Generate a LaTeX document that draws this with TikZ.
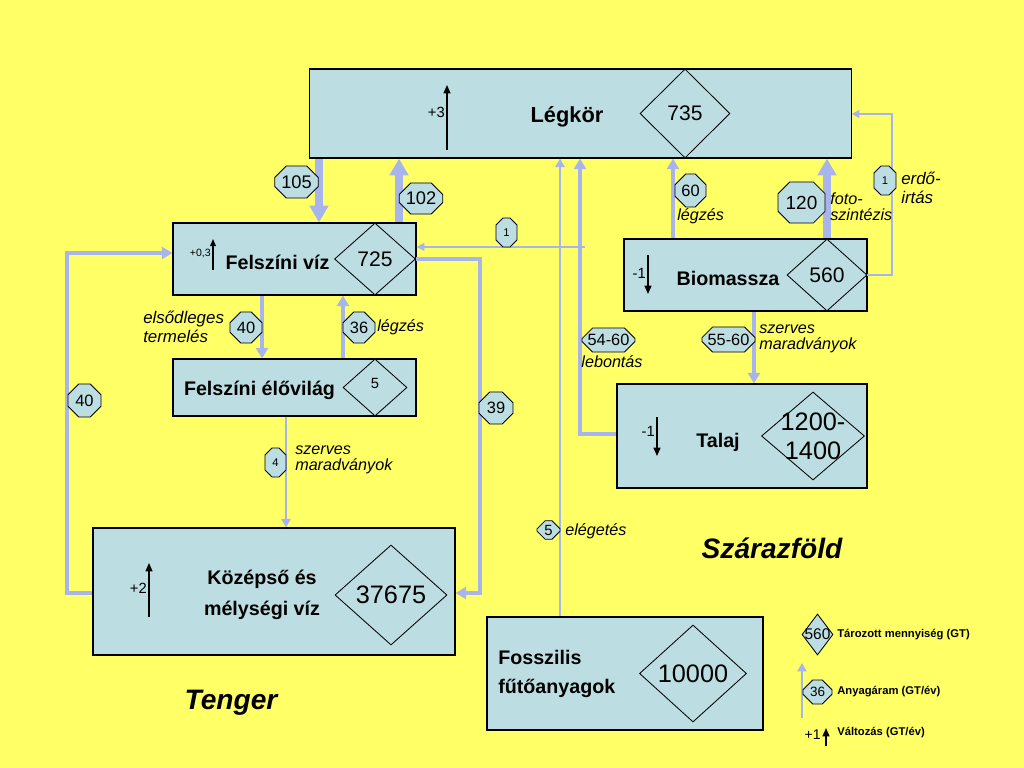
\documentclass[tikz,border=0pt]{standalone}
\usepackage{fontspec}
\setmainfont{Liberation Sans}
\usetikzlibrary{shapes.geometric,shapes.misc,arrows.meta}
\definecolor{sheet}{RGB}{255,255,102}
\definecolor{boxblue}{RGB}{188,222,226}
\definecolor{flowblue}{RGB}{168,180,236}

\begin{document}
\begin{tikzpicture}[x=0.025cm,y=-0.025cm,
  box/.style={draw,fill=boxblue,line width=0.8pt,inner sep=0pt},
  store/.style={diamond,draw,fill=boxblue,line width=0.6pt,inner sep=0pt},
  rate/.style={chamfered rectangle,chamfered rectangle xsep=0.2cm,draw,fill=boxblue,line width=0.6pt,inner sep=0pt},
  smallrate/.style={rate,chamfered rectangle xsep=0.12cm,font=\fontsize{8}{8}\selectfont},
  bigflow/.style={flowblue,line width=5.7pt,-{Triangle[width=13pt,length=12pt]}},
  midflow/.style={flowblue,line width=2.8pt,-{Triangle[width=8.5pt,length=7.5pt]}},
  thinflow/.style={flowblue,line width=2pt,-{Triangle[width=6.5pt,length=6pt]}},
  hairflow/.style={flowblue,line width=1.3pt,-{Triangle[width=5.5pt,length=5.5pt]}},
  change/.style={line width=1pt,-{Triangle[width=5pt,length=6pt]}},
  chlabel/.style={anchor=east,inner sep=0pt,font=\fontsize{10.5}{10.5}\selectfont},
  lbl/.style={anchor=west,align=left,inner sep=0pt,font=\itshape\fontsize{11.5}{11.5}\selectfont},
  boxname/.style={font=\bfseries\fontsize{14}{22}\selectfont,inner sep=0pt},
  legendtext/.style={anchor=west,inner sep=0pt,font=\bfseries\fontsize{8}{8}\selectfont}]
\fill[sheet] (0,0) rectangle (1024,768);
% tárolók
\node[box,minimum width=13.525cm,minimum height=2.225cm] (legkor) at (580.5,113.5) {};
\node[box,minimum width=6.075cm,minimum height=1.8cm] (felszin) at (294.5,259) {};
\node[box,minimum width=6.075cm,minimum height=1.425cm] (elovilag) at (294.5,387.5) {};
\node[box,minimum width=9.05cm,minimum height=3.175cm] (melyviz) at (274,591.5) {};
\node[box,minimum width=6.075cm,minimum height=1.8cm] (biomassza) at (745.5,275) {};
\node[box,minimum width=6.25cm,minimum height=2.6cm] (talaj) at (742,436) {};
\node[box,minimum width=6.9cm,minimum height=2.825cm] (fosszilis) at (625,673.5) {};
\node[store,minimum width=2.25cm,minimum height=2.225cm,label={[font=\fontsize{15}{15}\selectfont]center:735}] (d735) at (685,113.5) {};
\node[store,minimum width=2.025cm,minimum height=1.8cm,label={[font=\fontsize{15}{15}\selectfont]center:725}] (d725) at (375,259) {};
\node[store,minimum width=1.6cm,minimum height=1.425cm,label={[font=\fontsize{10.5}{10.5}\selectfont,yshift=3pt]center:5}] (d5) at (375,387.5) {};
\node[store,minimum width=2.8cm,minimum height=2.5cm,label={[font=\fontsize{18}{18}\selectfont]center:37675}] (d37675) at (391,595) {};
\node[store,minimum width=2cm,minimum height=1.8cm,label={[font=\fontsize{15}{15}\selectfont]center:560}] (d560) at (827,275) {};
\node[store,minimum width=2.575cm,minimum height=2.2cm,label={[align=center,font=\fontsize{18}{20.5}\selectfont]center:1200-\\1400}] (d1200) at (813,436) {};
\node[store,minimum width=2.675cm,minimum height=2.425cm,label={[font=\fontsize{18}{18}\selectfont]center:10000}] (d10000) at (693,673.5) {};
\node[boxname,font=\bfseries\fontsize{15.5}{15.5}\selectfont] (legkorname) at (567,117) {Légkör};
\node[boxname] (felszinname) at (277.5,262) {Felszíni víz};
\node[boxname] (elovilagname) at (259.5,390) {Felszíni élővilág};
\node[boxname,align=center] (melyvizname) at (262,594.5) {Középső és\\mélységi víz};
\node[boxname] (biomasszaname) at (728,278) {Biomassza};
\node[boxname] (talajname) at (718,442) {Talaj};
\node[boxname,anchor=west,align=left,font=\bfseries\fontsize{14}{20}\selectfont] (fosszilisname) at (498,674) {Fosszilis\\fűtőanyagok};
% változások
\draw[change] (447,150) -- (447,85);
\node[chlabel] (chlegkor) at (445,112) {+3};
\draw[change,line width=0.8pt,-{Triangle[width=4pt,length=5pt]}] (213,270) -- (213,239);
\node[chlabel,font=\fontsize{7.5}{7.5}\selectfont] (chfelszin) at (211,253) {+0,3};
\draw[change] (149,617) -- (149,563);
\node[chlabel] (chmelyviz) at (147,588) {+2};
\draw[change] (648,255) -- (648,294);
\node[chlabel] (chbiomassza) at (646,273) {-1};
\draw[change] (657,417) -- (657,456);
\node[chlabel] (chtalaj) at (655,431) {-1};
% anyagáramok
\draw[bigflow] (319,0 |- legkor.south) -- (319,0 |- felszin.north);
\draw[bigflow] (399,0 |- felszin.north) -- (399,0 |- legkor.south);
\draw[midflow] (673,0 |- biomassza.north) -- (673,0 |- legkor.south);
\draw[bigflow] (827,0 |- biomassza.north) -- (827,0 |- legkor.south);
\draw[thinflow] (560,0 |- fosszilis.north) -- (560,0 |- legkor.south);
\draw[midflow] (talaj.west |- 0,434) -| (580,0 |- legkor.south);
\coordinate (fork) at (585,247);
\draw[hairflow] (fork) -- (felszin.east |- fork);
\draw[midflow] (d725.east) -- (d725.east -| 480,0) |- (melyviz.east |- 0,593);
\draw[midflow] (melyviz.west |- 0,593) -- (67,593) -- (67,253) -- (felszin.west |- 0,253);
\draw[midflow] (262,0 |- felszin.south) -- (262,0 |- elovilag.north);
\draw[midflow] (343,0 |- elovilag.north) -- (343,0 |- felszin.south);
\draw[thinflow] (286,0 |- elovilag.south) -- (286,0 |- melyviz.north);
\draw[midflow] (754,0 |- biomassza.south) -- (754,0 |- talaj.north);
\draw[hairflow] (d560.east) -- (d560.east -| 892,0) |- (legkor.east |- 0,114);
% értékek
\node[rate,minimum width=0.925cm,minimum height=0.8cm,font=\fontsize{13}{13}\selectfont] (o105) at (296.5,182) {105};
\node[rate,minimum width=0.9cm,minimum height=0.775cm,font=\fontsize{13}{13}\selectfont] (o102) at (421,198.5) {102};
\node[smallrate,minimum width=0.525cm,minimum height=0.725cm] (o1fold) at (506.5,232.5) {1};
\node[rate,minimum width=0.775cm,minimum height=0.825cm,font=\fontsize{11.7}{11.7}\selectfont] (o60) at (690.5,190.5) {60};
\node[rate,minimum width=1.175cm,minimum height=1.025cm,chamfered rectangle xsep=0.25cm,font=\fontsize{13.5}{13.5}\selectfont] (o120) at (801.5,202.5) {120};
\node[smallrate,minimum width=0.55cm,minimum height=0.725cm] (o1erdo) at (885,180.5) {1};
\node[rate,minimum width=1.175cm,minimum height=0.625cm,chamfered rectangle xsep=0.14cm,font=\fontsize{11.6}{11.6}\selectfont] (o5560) at (728.5,339.5) {55-60};
\node[rate,minimum width=1.225cm,minimum height=0.6cm,chamfered rectangle xsep=0.14cm,font=\fontsize{11.6}{11.6}\selectfont] (o5460) at (608.5,340) {54-60};
\node[rate,minimum width=0.8cm,minimum height=0.775cm,font=\fontsize{11.7}{11.7}\selectfont] (o40felszin) at (246,327.5) {40};
\node[rate,minimum width=0.8cm,minimum height=0.775cm,font=\fontsize{11.7}{11.7}\selectfont] (o36) at (359,327.5) {36};
\node[rate,minimum width=0.825cm,minimum height=0.825cm,font=\fontsize{11.7}{11.7}\selectfont] (o40mely) at (84.5,400.5) {40};
\node[rate,minimum width=0.85cm,minimum height=0.8cm,font=\fontsize{11.7}{11.7}\selectfont] (o39) at (496,408) {39};
\node[smallrate,minimum width=0.525cm,minimum height=0.725cm] (o4) at (275.5,462.5) {4};
\node[rate,minimum width=0.575cm,minimum height=0.4cm,chamfered rectangle xsep=0.1cm,font=\fontsize{10.5}{10.5}\selectfont] (o5) at (548.5,530) {5};
\node[lbl,font=\itshape\fontsize{12}{14}\selectfont] (elsodleges) at (143,327) {elsődleges\\termelés};
\node[lbl] (legzesviz) at (377,327) {légzés};
\node[lbl] (szervesviz) at (295,459.5) {szerves\\maradványok};
\node[lbl] (legzesfold) at (677,216) {légzés};
\node[lbl] (fotoszint) at (830,206.5) {foto-\\szintézis};
\node[lbl,font=\itshape\fontsize{12}{13.5}\selectfont] (erdoirtas) at (901,187.5) {erdő-\\irtás};
\node[lbl] (szervesfold) at (759,338.5) {szerves\\maradványok};
\node[lbl,anchor=center] (lebontas) at (612,362) {lebontás};
\node[lbl] (elegetes) at (565,531) {elégetés};
\node[font=\bfseries\itshape\fontsize{20}{20}\selectfont] (szarazfold) at (772,548) {Szárazföld};
\node[font=\bfseries\itshape\fontsize{20}{20}\selectfont] (tenger) at (231,703) {Tenger};
% jelmagyarázat
\node[store,minimum width=0.775cm,minimum height=1.025cm,label={[font=\fontsize{11}{11}\selectfont]center:560}] (legstore) at (817.5,634.5) {};
\node[legendtext] (legstoretext) at (837,635) {Tározott mennyiség (GT)};
\draw[thinflow] (802,718) -- (802,663);
\node[rate,minimum width=0.725cm,minimum height=0.6cm,chamfered rectangle xsep=0.14cm,font=\fontsize{9.6}{9.6}\selectfont] (legrate) at (817.5,692) {36};
\node[legendtext] (legratetext) at (837,692) {Anyagáram (GT/év)};
\draw[change] (826,746) -- (826,728);
\node[chlabel,font=\fontsize{10}{10}\selectfont] (legchange) at (821,735) {+1};
\node[legendtext] (legchangetext) at (837,733) {Változás (GT/év)};
\end{tikzpicture}
\end{document}
